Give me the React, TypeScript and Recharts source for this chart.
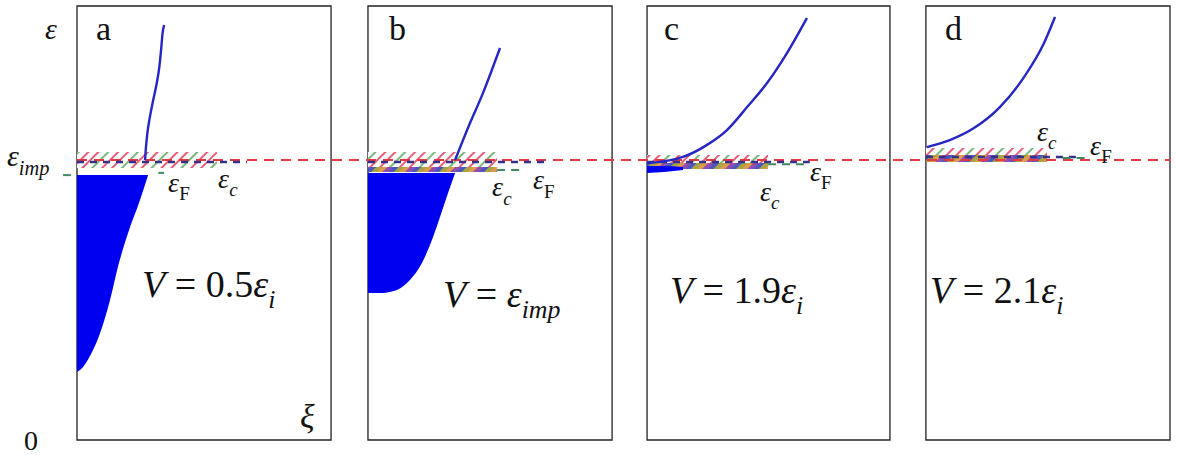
import {
  ComposedChart,
  XAxis,
  YAxis,
  Line,
  Area,
  ReferenceArea,
  ReferenceLine,
  ReferenceDot,
} from "recharts";

// panel geometry in chart units (xi across, energy up; eps_imp = 1)
const panelNames = ["a", "b", "c", "d"];
const panelLeft = [0, 1.198, 2.347, 3.495];
const panelWidth = [1.046, 1.005, 1.0, 1.005];
const panelTop = 1.55;
const epsImp = 1.0;

// continuum dispersion curves (local xi, eps)
const curveXi = [
  [0.268, 0.27, 0.277, 0.287, 0.3, 0.314, 0.324, 0.331, 0.337, 0.343],
  [0.357, 0.418, 0.471, 0.512, 0.541],
  [0, 0.074, 0.148, 0.247, 0.329, 0.412, 0.494, 0.576, 0.658],
  [0.004, 0.098, 0.197, 0.303, 0.402, 0.484, 0.529],
];
const curveEps = [
  [1.0, 1.029, 1.096, 1.154, 1.214, 1.275, 1.332, 1.393, 1.454, 1.482],
  [1.0, 1.132, 1.239, 1.332, 1.4],
  [0.989, 0.996, 1.011, 1.054, 1.107, 1.189, 1.275, 1.382, 1.507],
  [1.046, 1.071, 1.114, 1.189, 1.296, 1.418, 1.511],
];

// occupied (filled) states
const fillXi = [
  [0, 0.024, 0.063, 0.091, 0.13, 0.161, 0.201, 0.248, 0.28],
  [0, 0.049, 0.119, 0.172, 0.221, 0.262, 0.295, 0.328, 0.357],
  [0, 0.07, 0.148],
  [],
];
const fillLow = [
  [0.243, 0.261, 0.321, 0.382, 0.5, 0.618, 0.739, 0.857, 0.946],
  [0.525, 0.525, 0.536, 0.571, 0.632, 0.714, 0.796, 0.882, 0.954],
  [0.954, 0.957, 0.964],
  [],
];
const fillHigh = [
  [0.946, 0.946, 0.946, 0.946, 0.946, 0.946, 0.946, 0.946, 0.946],
  [0.954, 0.954, 0.954, 0.954, 0.954, 0.954, 0.954, 0.954, 0.954],
  [0.979, 0.979, 0.975],
  [],
];

// impurity band (hatched) and occupied impurity states
const hatchEnd = [0.551, 0.529, 0.498, 0.496];
const hatchLow = [0.971, 0.975, 0.989, 1.011];
const hatchHigh = [1.029, 1.029, 1.018, 1.043];
const bandEnd = [0, 0.529, 0.498, 0.496];
const bandLow = [0, 0.957, 0.968, 0.993];
const bandHigh = [0, 0.975, 0.989, 1.018];

// eps_c level (dashed blue) and eps_F marks (green)
const ecEnd = [0.669, 0.725, 0.67, 0.619];
const ecEps = [0.993, 0.993, 0.993, 1.011];
const efPanel = [0, 0, 1, 2, 3];
const efStart = [-0.055, 0.32, 0.529, 0.498, 0.56];
const efEnd = [-0.024, 0.343, 0.643, 0.66, 0.65];
const efEps = [0.946, 0.954, 0.964, 0.985, 1.007];

type Part = [string, "i" | "r" | "si" | "sr"];
const eps = "\u03b5";
const sp = "\u00a0";

const annotations: { x: number; y: number; size: number; parts: Part[] }[] = [
  { x: -0.132, y: 1.432, size: 30, parts: [[eps, "i"]] },
  { x: -0.218, y: -0.036, size: 28, parts: [["0", "r"]] },
  { x: -0.288, y: 0.979, size: 30, parts: [[eps, "i"], ["imp", "si"]] },
  { x: 0.918, y: 0.043, size: 34, parts: [["\u03be", "i"]] },
  { x: 0.375, y: 0.886, size: 28, parts: [[eps, "i"], ["F", "sr"]] },
  { x: 0.581, y: 0.9, size: 28, parts: [[eps, "i"], ["c", "si"]] },
  { x: 1.709, y: 0.871, size: 28, parts: [[eps, "i"], ["c", "si"]] },
  { x: 1.877, y: 0.896, size: 28, parts: [[eps, "i"], ["F", "sr"]] },
  { x: 2.812, y: 0.854, size: 28, parts: [[eps, "i"], ["c", "si"]] },
  { x: 3.018, y: 0.925, size: 28, parts: [[eps, "i"], ["F", "sr"]] },
  { x: 3.952, y: 1.068, size: 28, parts: [[eps, "i"], ["c", "si"]] },
  { x: 4.171, y: 1.018, size: 28, parts: [[eps, "i"], ["F", "sr"]] },
  { x: 0.268, y: 0.511, size: 38, parts: [["V", "i"], [sp + "=" + sp + "0.5", "r"], [eps, "i"], ["i", "si"]] },
  { x: 1.507, y: 0.475, size: 38, parts: [["V", "i"], [sp + "=" + sp, "r"], [eps, "i"], ["imp", "si"]] },
  { x: 2.441, y: 0.489, size: 38, parts: [["V", "i"], [sp + "=" + sp + "1.9", "r"], [eps, "i"], ["i", "si"]] },
  { x: 3.512, y: 0.489, size: 38, parts: [["V", "i"], [sp + "=" + sp + "2.1", "r"], [eps, "i"], ["i", "si"]] },
];
const letterX = [0.078, 1.285, 2.417, 3.574];
const letterY = 1.43;

const toX = (p: number, xi: number) => panelLeft[p] + xi * panelWidth[p];
const FONT = "'Liberation Serif', 'Times New Roman', 'DejaVu Serif', serif";

function MathText({ x, y, parts, size }: { x: number; y: number; parts: Part[]; size: number }) {
  let inSub = false;
  return (
    <text x={x} y={y} fontFamily={FONT} fontSize={size} fill="#111">
      {parts.map(([t, k], i) => {
        const sub = k === "si" || k === "sr";
        const dy = sub && !inSub ? size * 0.3 : !sub && inSub ? -size * 0.3 : 0;
        inSub = sub;
        return (
          <tspan
            key={i}
            fontFamily={FONT}
            fontStyle={k === "i" || k === "si" ? "italic" : "normal"}
            fontSize={sub ? size * 0.68 : size}
            dy={dy || undefined}
          >
            {t}
          </tspan>
        );
      })}
    </text>
  );
}

export default function App() {
  return (
    <div style={{ position: "absolute", left: 0, top: 0, background: "#fff" }}>
      <ComposedChart width={1177} height={455} margin={{ top: 6, right: 7, bottom: 0, left: 0 }}>
        <defs>
          <pattern id="hatch" patternUnits="userSpaceOnUse" width="21" height="21" patternTransform="rotate(45)">
            <rect width="21" height="21" fill="#fff" />
            <line x1="2" y1="0" x2="2" y2="21" stroke="#e4607a" strokeWidth="2" />
            <line x1="9" y1="0" x2="9" y2="21" stroke="#e4607a" strokeWidth="2" />
            <line x1="16" y1="0" x2="16" y2="21" stroke="#7ab87a" strokeWidth="2" />
          </pattern>
          <pattern id="occupied" patternUnits="userSpaceOnUse" width="16" height="16" patternTransform="rotate(45)">
            <rect x="0" width="4" height="16" fill="#a09a2c" />
            <rect x="4" width="4" height="16" fill="#d8903a" />
            <rect x="8" width="4" height="16" fill="#8a3aa6" />
            <rect x="12" width="4" height="16" fill="#3a46b8" />
          </pattern>
        </defs>
        <XAxis type="number" dataKey="x" domain={[-0.317, 4.5]} allowDataOverflow hide />
        <YAxis type="number" domain={[-0.0536, panelTop]} allowDataOverflow hide />

        {panelNames.map((n, p) => (
          <ReferenceArea
            key={"box" + n}
            x1={panelLeft[p]}
            x2={panelLeft[p] + panelWidth[p]}
            y1={0}
            y2={panelTop}
            fill="#fff"
            fillOpacity={1}
            stroke="#222"
            strokeWidth={1.3}
          />
        ))}
        {panelNames.map((n, p) => (
          <ReferenceArea
            key={"hatch" + n}
            x1={panelLeft[p]}
            x2={toX(p, hatchEnd[p])}
            y1={hatchLow[p]}
            y2={hatchHigh[p]}
            fill="url(#hatch)"
            fillOpacity={1}
            stroke="none"
          />
        ))}
        {panelNames.map((n, p) =>
          bandEnd[p] > 0 ? (
            <ReferenceArea
              key={"band" + n}
              x1={panelLeft[p]}
              x2={toX(p, bandEnd[p])}
              y1={bandLow[p]}
              y2={bandHigh[p]}
              fill="url(#occupied)"
              fillOpacity={0.9}
              stroke="none"
            />
          ) : null
        )}

        {panelNames.map((n, p) =>
          fillXi[p].length ? (
            <Area
              key={"fill" + n}
              data={fillXi[p].map((xi, i) => ({ x: toX(p, xi), r: [fillLow[p][i], fillHigh[p][i]] }))}
              dataKey="r"
              type="monotone"
              fill="#0000f0"
              fillOpacity={1}
              stroke="none"
              isAnimationActive={false}
              activeDot={false}
            />
          ) : null
        )}

        <ReferenceLine
          segment={[
            { x: 0, y: epsImp },
            { x: 4.5, y: epsImp },
          ]}
          stroke="#e23a40"
          strokeWidth={2}
          strokeDasharray="10 7"
        />

        {panelNames.map((n, p) => (
          <Line
            key={"ec" + n}
            data={[
              { x: toX(p, 0), e: ecEps[p] },
              { x: toX(p, ecEnd[p]), e: ecEps[p] },
            ]}
            dataKey="e"
            stroke="#35308a"
            strokeWidth={2.5}
            strokeDasharray="7 6"
            dot={false}
            activeDot={false}
            isAnimationActive={false}
          />
        ))}
        {efPanel.map((p, k) => (
          <Line
            key={"ef" + k}
            data={[
              { x: toX(p, efStart[k]), e: efEps[k] },
              { x: toX(p, efEnd[k]), e: efEps[k] },
            ]}
            dataKey="e"
            stroke="#3f8a62"
            strokeWidth={2}
            strokeDasharray="8 6"
            dot={false}
            activeDot={false}
            isAnimationActive={false}
          />
        ))}

        {panelNames.map((n, p) => (
          <Line
            key={"curve" + n}
            data={curveXi[p].map((xi, i) => ({ x: toX(p, xi), e: curveEps[p][i] }))}
            dataKey="e"
            type="monotone"
            stroke="#2626c4"
            strokeWidth={2.4}
            dot={false}
            activeDot={false}
            isAnimationActive={false}
          />
        ))}

        {panelNames.map((n, p) => (
          <ReferenceDot
            key={"letter" + n}
            x={letterX[p]}
            y={letterY}
            r={0}
            ifOverflow="visible"
            shape={(s: any) => <MathText x={s.cx} y={s.cy} size={34} parts={[[n, "r"]]} />}
          />
        ))}
        {annotations.map((a, i) => (
          <ReferenceDot
            key={"ann" + i}
            x={a.x}
            y={a.y}
            r={0}
            ifOverflow="visible"
            shape={(s: any) => <MathText x={s.cx} y={s.cy} size={a.size} parts={a.parts} />}
          />
        ))}
      </ComposedChart>
    </div>
  );
}
